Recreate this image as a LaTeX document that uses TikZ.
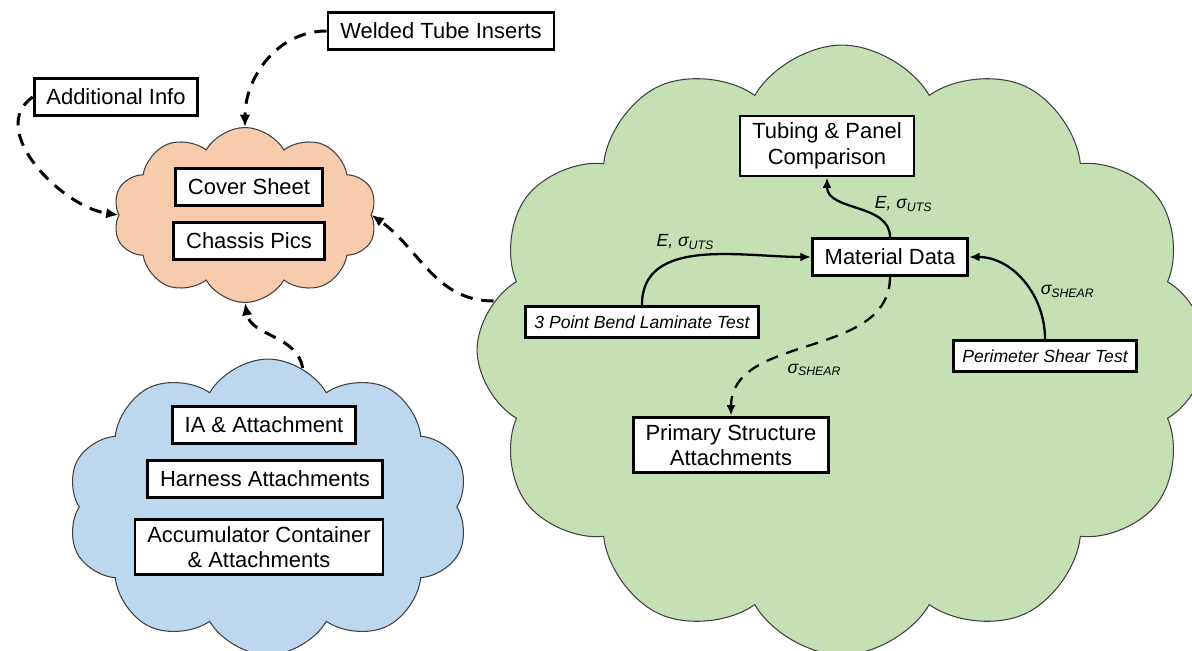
\documentclass[tikz,border=0pt]{standalone}
\usepackage{fontspec}
\setmainfont{Liberation Sans}
\usetikzlibrary{shapes.symbols,arrows.meta}

\definecolor{cloudOrange}{HTML}{F8CBAD}
\definecolor{cloudBlue}{HTML}{BDD7EE}
\definecolor{cloudGreen}{HTML}{C5E0B4}
\definecolor{cloudEdge}{HTML}{404040}

\tikzset{
  doc/.style={draw, line width=1.6pt, fill=white, inner xsep=7pt, inner ysep=4pt,
    minimum height=21pt, align=center, font=\fontsize{12.5}{14.5}\selectfont},
  testbox/.style={doc, inner xsep=5pt, minimum height=18pt,
    font=\fontsize{10}{12}\selectfont\itshape},
  blob/.style={cloud, draw=cloudEdge, line width=0.6pt, cloud puff arc=120},
  flow/.style={line width=1.3pt, -{Latex[length=6pt,width=5pt]}},
  feed/.style={line width=1.7pt, dash pattern=on 7pt off 5pt, -{Latex[length=7pt,width=6pt]}},
  qty/.style={font=\fontsize{10}{12}\selectfont\itshape, inner sep=1pt}
}

\begin{document}
\begin{tikzpicture}[x=0.02cm, y=-0.02cm]

        \useasboundingbox (0,0) rectangle (1192,651);
        \clip (0,0) rectangle (1192,651);

        % Clouds
        \node[blob, fill=cloudGreen, cloud puffs=12, aspect=1.2,
              minimum width=14.6cm, minimum height=12.2cm] (matCloud) at (842,350) {};
        \node[blob, fill=cloudOrange, cloud puffs=10, aspect=1.5,
              minimum width=5.28cm, minimum height=3.5cm] (coverCloud) at (245,215) {};
        \node[blob, fill=cloudBlue, cloud puffs=10, aspect=1.36,
              minimum width=8.04cm, minimum height=5.92cm] (accCloud) at (268,507) {};

        % Boxes outside the clouds
        \node[doc] (weld) at (441,31) {Welded Tube Inserts};
        \node[doc] (info) at (116,97) {Additional Info};

        % Orange cloud contents
        \node[doc, minimum width=2.94cm] (cover) at (249,187) {Cover Sheet};
        \node[doc, minimum width=2.94cm] (chassis) at (249,241) {Chassis Pics};

        % Blue cloud contents
        \node[doc] (ia) at (264,425) {IA \& Attachment};
        \node[doc] (harness) at (265,479) {Harness Attachments};
        \node[doc] (accu) at (259,547) {Accumulator Container\\\& Attachments};

        % Green cloud contents
        \node[doc] (tubing) at (827,146) {Tubing \& Panel\\Comparison};
        \node[doc] (matData) at (890,257) {Material Data};
        \node[testbox] (bend) at (642,322) {3 Point Bend Laminate Test};
        \node[testbox] (shear) at (1045,356) {Perimeter Shear Test};
        \node[doc] (prim) at (731,445) {Primary Structure\\Attachments};

        % Dashed links between clouds
        \draw[feed] (weld.west) to[out=180, in=90] (coverCloud.north);
        \draw[feed] (info.west) to[out=215, in=172] (coverCloud.west);
        \draw[feed] (matCloud.172) to[out=180, in=-35] (coverCloud.east);
        \draw[feed] (accCloud.76) to[out=100, in=-80] (coverCloud.south);

        % Material data flow
        \draw[flow] (bend.north) to[out=90, in=180]
              node[qty, pos=0.42, above=3pt] {E, σ\textsubscript{UTS}} (matData.west);
        \draw[flow] (matData.north) to[out=90, in=-90]
              node[qty, pos=0.45, anchor=south west, xshift=5pt, yshift=-3pt] {E, σ\textsubscript{UTS}} (tubing.south);
        \draw[flow] (shear.north) to[out=90, in=0]
              node[qty, pos=0.4, right=4pt] {σ\textsubscript{SHEAR}} (matData.east);
        \draw[feed, line width=1.3pt, -{Latex[length=6pt,width=5pt]}] (matData.south) to[out=-90, in=90]
              node[qty, pos=0.55, below=6pt, xshift=9pt] {σ\textsubscript{SHEAR}} (prim.north);

    \end{tikzpicture}
\end{document}
